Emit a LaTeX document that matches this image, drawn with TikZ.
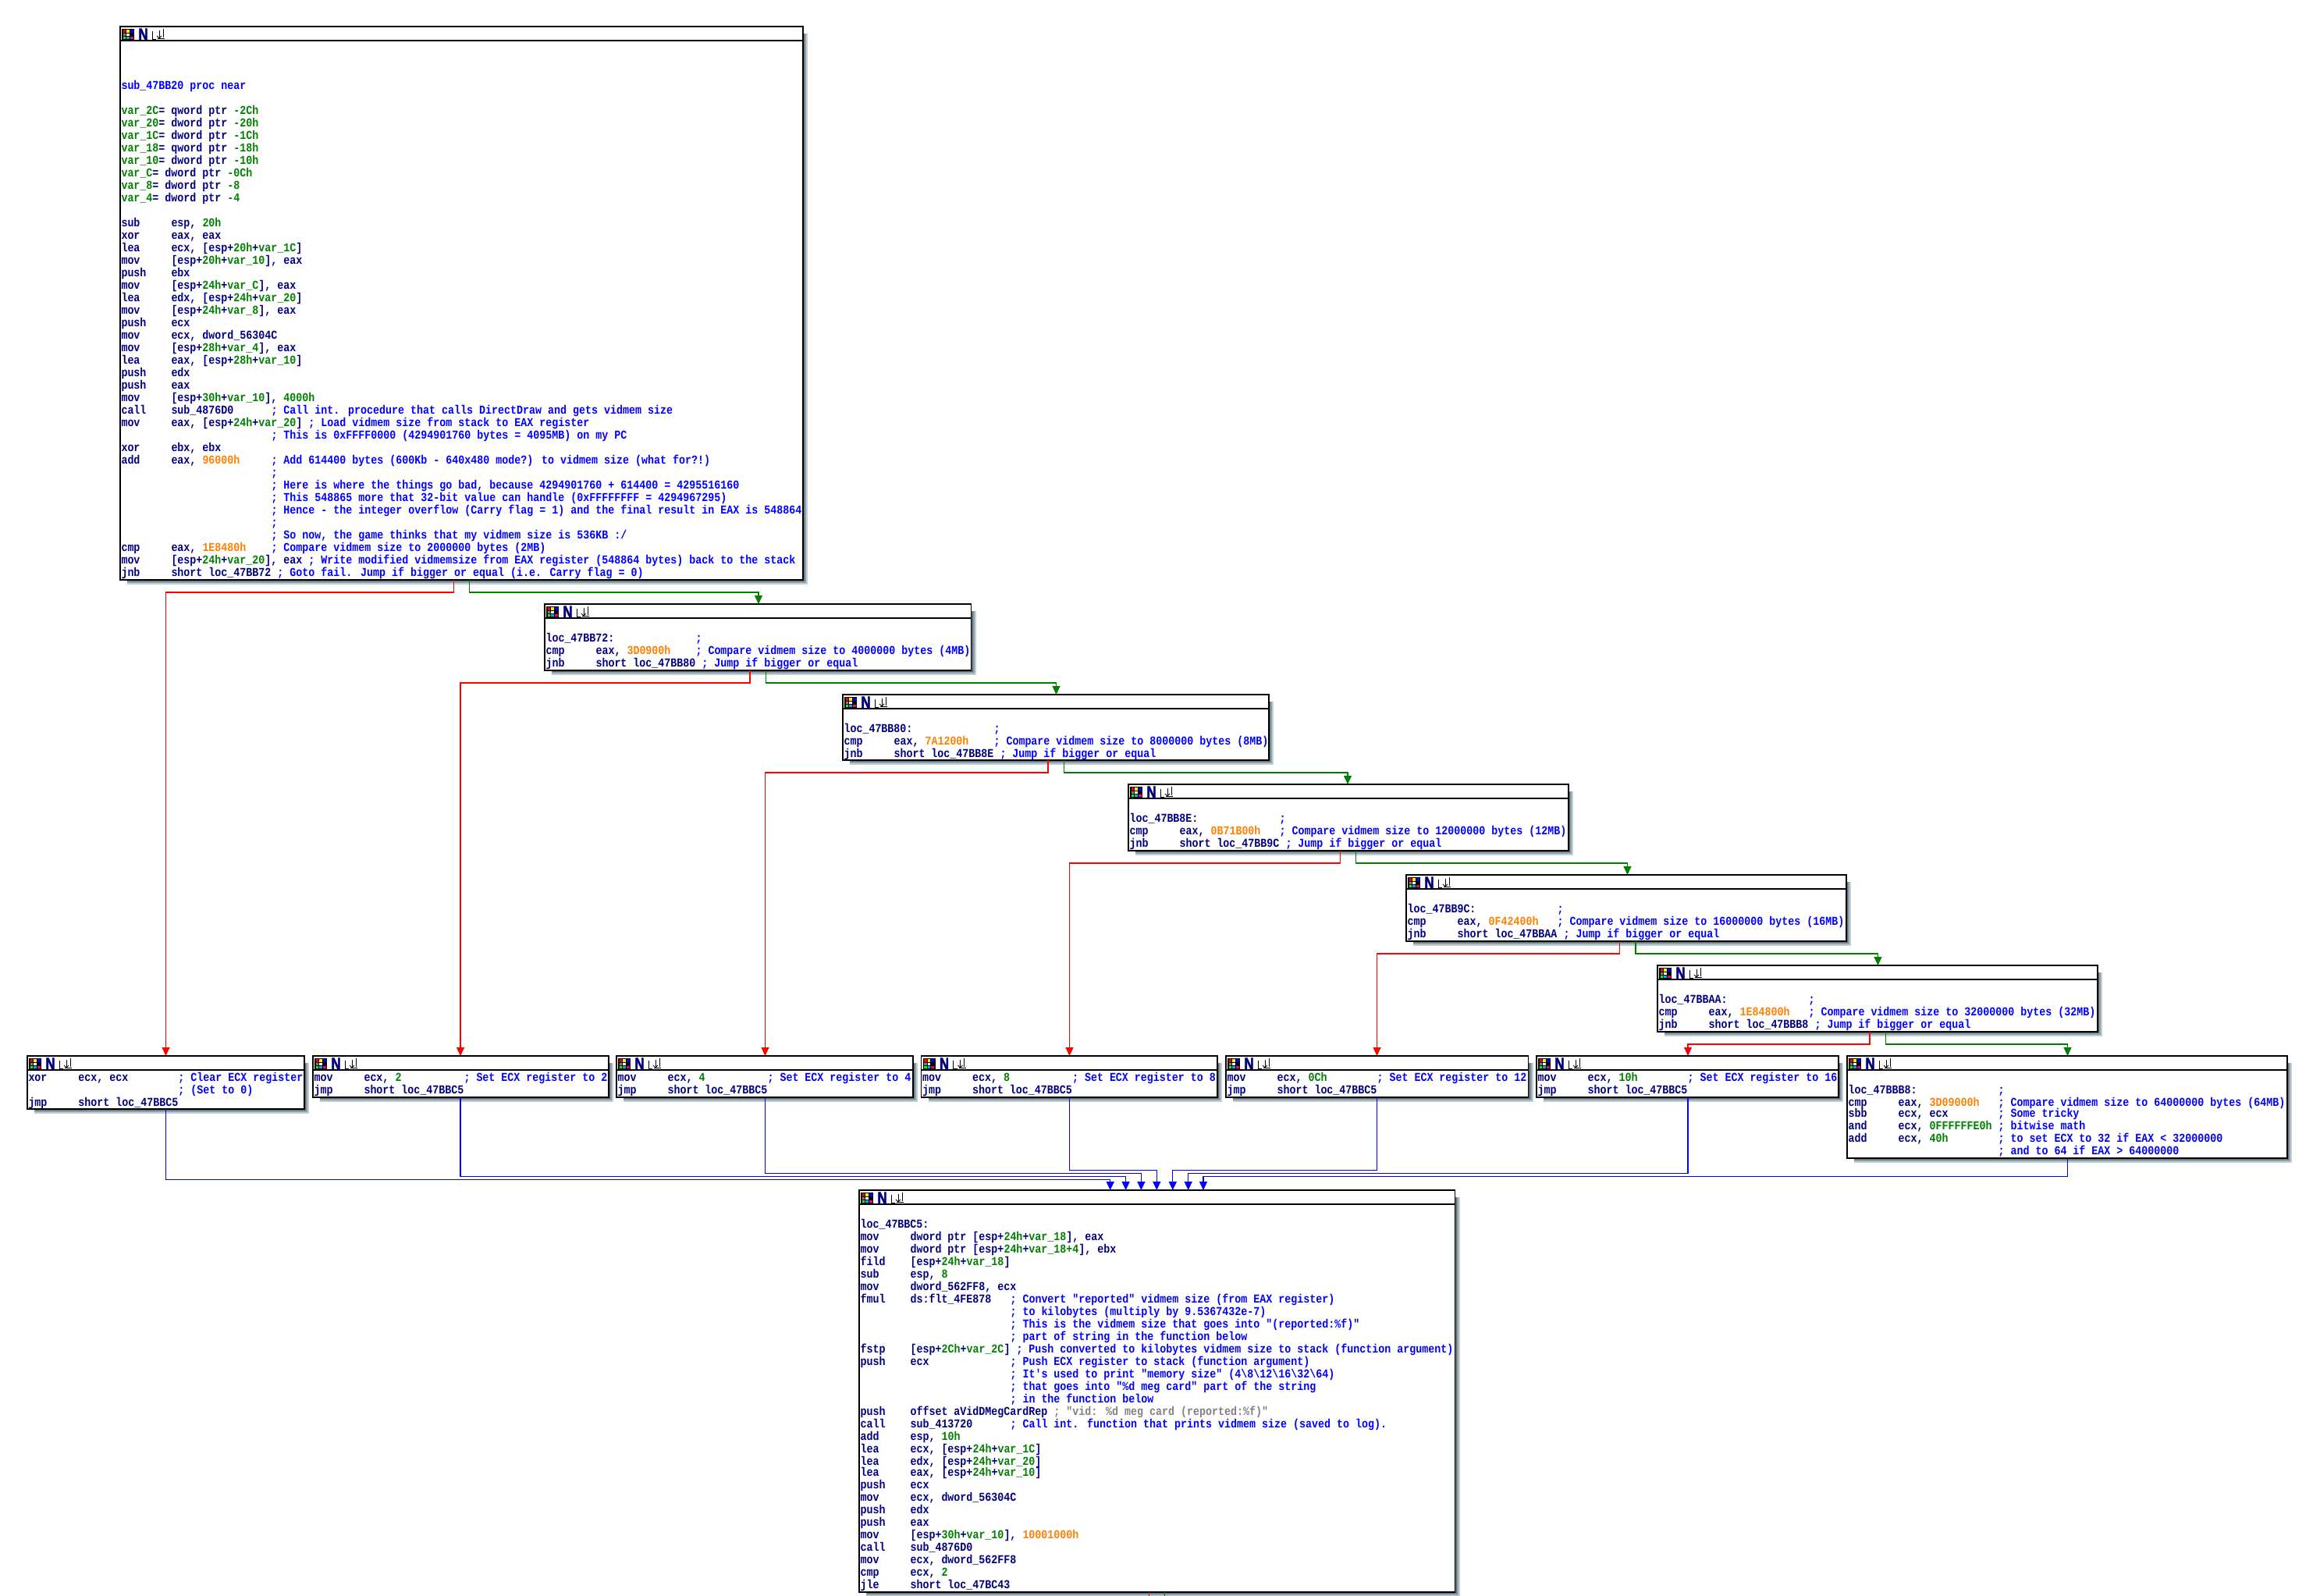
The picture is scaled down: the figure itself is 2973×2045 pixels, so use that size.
\documentclass[tikz,border=0pt]{standalone}
\usepackage{fontspec}
\usetikzlibrary{calc,arrows.meta}
\newfontfamily\asmfont{Liberation Mono}[FakeStretch=0.86]
\newfontfamily\nfont{Liberation Sans}[FakeStretch=0.8,FakeBold=2.5]
\definecolor{asmnavy}{HTML}{000080}
\definecolor{cmtc}{HTML}{0000FF}
\definecolor{numc}{HTML}{008000}
\definecolor{orc}{HTML}{FF8000}
\definecolor{strc}{HTML}{808080}
\definecolor{edgered}{HTML}{FF0000}
\definecolor{edgegreen}{HTML}{008000}
\definecolor{edgeblue}{HTML}{0000FF}
\definecolor{sh1}{HTML}{C0D0D8}
\definecolor{sh2}{HTML}{90A0A8}
\definecolor{sh3}{HTML}{606C70}
\newsavebox\asmbox
\newcommand\asmfontsetup{\spaceskip=4pt\relax\lineskiplimit=-5pt\relax}
\newcommand\rowstrut{\rule[-1.5pt]{0pt}{8pt}}
\newcommand\gr[1]{{\color{numc}#1}}
\newcommand\orn[1]{{\color{orc}#1}}
\newcommand\asm[3]{\rowstrut\makebox[32pt][l]{#1}\sbox{\asmbox}{#2}\ifdim\wd\asmbox<63.9pt\makebox[64pt][l]{\usebox{\asmbox}}\else\usebox{\asmbox}\ \fi{\color{cmtc}#3}}
\newcommand\lbl[2]{\rowstrut\makebox[96pt][l]{#1}{\color{cmtc}#2}}
\newcommand\row[1]{\rowstrut #1}
\tikzset{
  x=0.5pt,y=-0.5pt,
  codebox/.style={draw=black,line width=0.75pt,fill=white,inner sep=0pt,outer sep=0pt,anchor=north west},
  codetext/.style={anchor=north west,inner sep=0pt,outer sep=0pt,align=left,text=asmnavy,
    font={\asmfont\bfseries\fontsize{7.75pt}{8pt}\selectfont\asmfontsetup}},
  nlabel/.style={anchor=base west,inner sep=0pt,outer sep=0pt,text=asmnavy,
    font={\nfont\bfseries\fontsize{10.4pt}{10.4pt}\selectfont}},
  hdrline/.style={draw=black,line width=0.7pt},
  redge/.style={draw=edgered,line width=0.6pt,-{Triangle[length=5.5pt,width=5pt]}},
  gedge/.style={draw=edgegreen,line width=0.6pt,-{Triangle[length=5.5pt,width=5pt]}},
  bedge/.style={draw=edgeblue,line width=0.6pt,-{Triangle[length=5.5pt,width=5pt]}},
}
% name, L, T, R, B, content
\newcommand\cbox[6]{%
  \fill[sh1] (#2+9,#3+9) rectangle (#4+6,#5+6);
  \fill[sh2] (#2+9,#3+9) rectangle (#4+4,#5+4);
  \fill[sh3] (#2+9,#3+9) rectangle (#4+2,#5+2);
  \node[codebox,minimum width={(#4-#2)*0.5pt},minimum height={(#5-#3)*0.5pt}] (#1) at (#2,#3) {};
  \draw[hdrline] ($(#1.north west)+(0,18)$) -- ($(#1.north east)+(0,18)$);
  \begin{scope}[shift={(#1.north west)}]
    \fill[black] (2,3) rectangle (18,17);
    \fill[red]    (3.5,4.3) rectangle (7,7.5);
    \fill[yellow] (8.2,4.3) rectangle (11.7,7.5);
    \fill[blue]   (12.9,4.3) rectangle (16.5,7.5);
    \fill[gray]   (3.5,8.5) rectangle (7,11.7);
    \fill[white]  (8.2,8.5) rectangle (11.7,11.7);
    \fill[green]  (3.5,12.7) rectangle (7,15.8);
    \fill[cyan]   (8.2,12.7) rectangle (11.7,15.8);
    \fill[magenta](12.9,12.7) rectangle (16.5,15.8);
    \draw[black,line width=0.5pt] (41,6) -- (41,16) -- (46,16);
    \draw[black,line width=0.5pt] (50,5) -- (50,15);
    \draw[black,line width=0.5pt] (47,12) -- (50,15) -- (53,12);
    \draw[black,line width=0.5pt] (55,3) -- (55,14);
    \draw[black,line width=0.5pt] (48,15) -- (57,15) (48,17) -- (57,17);
  \end{scope}
  \node[nlabel] (#1n) at ($(#1.north west)+(23.5,17)$) {N};
  \node[codetext] (#1t) at ($(#1.north west)+(1.5,19)$) {#6};
}
% style, source, source dx, target, target dx, drop
\newcommand\conn[6]{\draw[#1] ($(#2.south west)+(#3,0)$) -- ++(0,#6) -| ($(#4.north west)+(#5,0)$);}
\begin{document}
\begin{tikzpicture}
\useasboundingbox (0,0) rectangle (2973,2045);
\fill[white] (0,0) rectangle (2973,2045);

\cbox{b1}{154}{34}{1029}{743}{%
\rowstrut\\
\rowstrut\\
\rowstrut\\
\row{{\color{cmtc}sub\_47BB20 proc near}}\\
\rowstrut\\
\row{\gr{var\_2C}= qword ptr \gr{-2Ch}}\\
\row{\gr{var\_20}= dword ptr \gr{-20h}}\\
\row{\gr{var\_1C}= dword ptr \gr{-1Ch}}\\
\row{\gr{var\_18}= qword ptr \gr{-18h}}\\
\row{\gr{var\_10}= dword ptr \gr{-10h}}\\
\row{\gr{var\_C}= dword ptr \gr{-0Ch}}\\
\row{\gr{var\_8}= dword ptr \gr{-8}}\\
\row{\gr{var\_4}= dword ptr \gr{-4}}\\
\rowstrut\\
\asm{sub}{esp, \gr{20h}}{}\\
\asm{xor}{eax, eax}{}\\
\asm{lea}{ecx, [esp+\gr{20h}+\gr{var\_1C}]}{}\\
\asm{mov}{[esp+\gr{20h}+\gr{var\_10}], eax}{}\\
\asm{push}{ebx}{}\\
\asm{mov}{[esp+\gr{24h}+\gr{var\_C}], eax}{}\\
\asm{lea}{edx, [esp+\gr{24h}+\gr{var\_20}]}{}\\
\asm{mov}{[esp+\gr{24h}+\gr{var\_8}], eax}{}\\
\asm{push}{ecx}{}\\
\asm{mov}{ecx, dword\_56304C}{}\\
\asm{mov}{[esp+\gr{28h}+\gr{var\_4}], eax}{}\\
\asm{lea}{eax, [esp+\gr{28h}+\gr{var\_10}]}{}\\
\asm{push}{edx}{}\\
\asm{push}{eax}{}\\
\asm{mov}{[esp+\gr{30h}+\gr{var\_10}], \gr{4000h}}{}\\
\asm{call}{sub\_4876D0}{; Call int. procedure that calls DirectDraw and gets vidmem size}\\
\asm{mov}{eax, [esp+\gr{24h}+\gr{var\_20}]}{; Load vidmem size from stack to EAX register}\\
\asm{}{}{; This is 0xFFFF0000 (4294901760 bytes = 4095MB) on my PC}\\
\asm{xor}{ebx, ebx}{}\\
\asm{add}{eax, \orn{96000h}}{; Add 614400 bytes (600Kb - 640x480 mode?) to vidmem size (what for?!)}\\
\asm{}{}{;}\\
\asm{}{}{; Here is where the things go bad, because 4294901760 + 614400 = 4295516160}\\
\asm{}{}{; This 548865 more that 32-bit value can handle (0xFFFFFFFF = 4294967295)}\\
\asm{}{}{; Hence - the integer overflow (Carry flag = 1) and the final result in EAX is 548864}\\
\asm{}{}{;}\\
\asm{}{}{; So now, the game thinks that my vidmem size is 536KB :/}\\
\asm{cmp}{eax, \orn{1E8480h}}{; Compare vidmem size to 2000000 bytes (2MB)}\\
\asm{mov}{[esp+\gr{24h}+\gr{var\_20}], eax}{; Write modified vidmemsize from EAX register (548864 bytes) back to the stack}\\
\asm{jnb}{short loc\_47BB72}{; Goto fail. Jump if bigger or equal (i.e. Carry flag = 0)}}

\cbox{b2}{698}{774}{1244.5}{859}{%
\rowstrut\\
\lbl{loc\_47BB72:}{;}\\
\asm{cmp}{eax, \orn{3D0900h}}{; Compare vidmem size to 4000000 bytes (4MB)}\\
\asm{jnb}{short loc\_47BB80}{; Jump if bigger or equal}}

\cbox{b3}{1080}{890}{1626}{974}{%
\rowstrut\\
\lbl{loc\_47BB80:}{;}\\
\asm{cmp}{eax, \orn{7A1200h}}{; Compare vidmem size to 8000000 bytes (8MB)}\\
\asm{jnb}{short loc\_47BB8E}{; Jump if bigger or equal}}

\cbox{b4}{1446}{1005}{2010}{1090}{%
\rowstrut\\
\lbl{loc\_47BB8E:}{;}\\
\asm{cmp}{eax, \orn{0B71B00h}}{; Compare vidmem size to 12000000 bytes (12MB)}\\
\asm{jnb}{short loc\_47BB9C}{; Jump if bigger or equal}}

\cbox{b5}{1802}{1121}{2366}{1206}{%
\rowstrut\\
\lbl{loc\_47BB9C:}{;}\\
\asm{cmp}{eax, \orn{0F42400h}}{; Compare vidmem size to 16000000 bytes (16MB)}\\
\asm{jnb}{short loc\_47BBAA}{; Jump if bigger or equal}}

\cbox{b6}{2124}{1237}{2688}{1322}{%
\rowstrut\\
\lbl{loc\_47BBAA:}{;}\\
\asm{cmp}{eax, \orn{1E84800h}}{; Compare vidmem size to 32000000 bytes (32MB)}\\
\asm{jnb}{short loc\_47BBB8}{; Jump if bigger or equal}}

\cbox{n0}{35}{1353}{390}{1421}{%
\asm{xor}{ecx, ecx}{; Clear ECX register}\\
\asm{}{}{; (Set to 0)}\\
\asm{jmp}{short loc\_47BBC5}{}}

\cbox{n2}{401}{1353}{780}{1406}{%
\asm{mov}{ecx, \gr{2}}{; Set ECX register to 2}\\
\asm{jmp}{short loc\_47BBC5}{}}

\cbox{n4}{790}{1353}{1170}{1406}{%
\asm{mov}{ecx, \gr{4}}{; Set ECX register to 4}\\
\asm{jmp}{short loc\_47BBC5}{}}

\cbox{n8}{1180.5}{1353}{1560}{1406}{%
\asm{mov}{ecx, \gr{8}}{; Set ECX register to 8}\\
\asm{jmp}{short loc\_47BBC5}{}}

\cbox{n12}{1571}{1353}{1958.5}{1406}{%
\asm{mov}{ecx, \gr{0Ch}}{; Set ECX register to 12}\\
\asm{jmp}{short loc\_47BBC5}{}}

\cbox{n16}{1969}{1353}{2356}{1406}{%
\asm{mov}{ecx, \gr{10h}}{; Set ECX register to 16}\\
\asm{jmp}{short loc\_47BBC5}{}}

\cbox{n64}{2367}{1353}{2931}{1484}{%
\rowstrut\\
\lbl{loc\_47BBB8:}{;}\\
\asm{cmp}{eax, \orn{3D09000h}}{; Compare vidmem size to 64000000 bytes (64MB)}\\[-1pt]
\asm{sbb}{ecx, ecx}{; Some tricky}\\
\asm{and}{ecx, \gr{0FFFFFFE0h}}{; bitwise math}\\
\asm{add}{ecx, \gr{40h}}{; to set ECX to 32 if EAX < 32000000}\\
\asm{}{}{; and to 64 if EAX > 64000000}}

\cbox{f}{1101}{1525}{1864.5}{2040}{%
\rowstrut\\
\row{loc\_47BBC5:}\\
\asm{mov}{dword ptr [esp+\gr{24h}+\gr{var\_18}], eax}{}\\
\asm{mov}{dword ptr [esp+\gr{24h}+\gr{var\_18+4}], ebx}{}\\
\asm{fild}{[esp+\gr{24h}+\gr{var\_18}]}{}\\
\asm{sub}{esp, \gr{8}}{}\\
\asm{mov}{dword\_562FF8, ecx}{}\\
\asm{fmul}{ds:flt\_4FE878}{; Convert "reported" vidmem size (from EAX register)}\\
\asm{}{}{; to kilobytes (multiply by 9.5367432e-7)}\\
\asm{}{}{; This is the vidmem size that goes into "(reported:\%f)"}\\
\asm{}{}{; part of string in the function below}\\
\asm{fstp}{[esp+\gr{2Ch}+\gr{var\_2C}]}{; Push converted to kilobytes vidmem size to stack (function argument)}\\
\asm{push}{ecx}{; Push ECX register to stack (function argument)}\\
\asm{}{}{; It's used to print "memory size" (4\textbackslash 8\textbackslash 12\textbackslash 16\textbackslash 32\textbackslash 64)}\\
\asm{}{}{; that goes into "\%d meg card" part of the string}\\
\asm{}{}{; in the function below}\\
\asm{push}{offset aVidDMegCardRep}{{\color{strc}; "vid: \%d meg card (reported:\%f)"}}\\
\asm{call}{sub\_413720}{; Call int. function that prints vidmem size (saved to log).}\\
\asm{add}{esp, \gr{10h}}{}\\
\asm{lea}{ecx, [esp+\gr{24h}+\gr{var\_1C}]}{}\\
\asm{lea}{edx, [esp+\gr{24h}+\gr{var\_20}]}{}\\[-1pt]
\asm{lea}{eax, [esp+\gr{24h}+\gr{var\_10}]}{}\\
\asm{push}{ecx}{}\\
\asm{mov}{ecx, dword\_56304C}{}\\
\asm{push}{edx}{}\\
\asm{push}{eax}{}\\
\asm{mov}{[esp+\gr{30h}+\gr{var\_10}], \orn{10001000h}}{}\\
\asm{call}{sub\_4876D0}{}\\
\asm{mov}{ecx, dword\_562FF8}{}\\
\asm{cmp}{ecx, \gr{2}}{}\\
\asm{jle}{short loc\_47BC43}{}}

% branches
\conn{redge}{b1}{427.5}{n0}{177.5}{16}
\conn{gedge}{b1}{447.5}{b2}{274}{16}
\conn{redge}{b2}{263}{n2}{189}{16}
\conn{gedge}{b2}{283.5}{b3}{273.5}{16}
\conn{redge}{b3}{263}{n4}{190.5}{16}
\conn{gedge}{b3}{283.5}{b4}{281}{16}
\conn{redge}{b4}{271.5}{n8}{190}{16}
\conn{gedge}{b4}{291.5}{b5}{283.5}{16}
\conn{redge}{b5}{273.5}{n12}{193.5}{16}
\conn{gedge}{b5}{294}{b6}{282.5}{16}
\conn{redge}{b6}{272}{n16}{194}{16}
\conn{gedge}{b6}{292.5}{n64}{282.5}{16}
% joins
\conn{bedge}{n0}{177.5}{f}{321.7}{90.3}
\conn{bedge}{n2}{189}{f}{341.6}{101.3}
\conn{bedge}{n4}{190.5}{f}{361.4}{97.3}
\conn{bedge}{n8}{190}{f}{381.3}{93.3}
\conn{bedge}{n12}{193.5}{f}{401.8}{93.3}
\conn{bedge}{n16}{194}{f}{421.7}{97.3}
\conn{bedge}{n64}{282.5}{f}{441}{23.3}
% cut-off outgoing edges of the last block
\coordinate (endr) at (1472.6,2045);
\coordinate (endg) at (1492.5,2045);
\draw[draw=edgered,line width=0.5pt] (f.south west -| endr) -- (endr);
\draw[draw=edgegreen,line width=0.5pt] (f.south west -| endg) -- (endg);
\end{tikzpicture}
\end{document}
